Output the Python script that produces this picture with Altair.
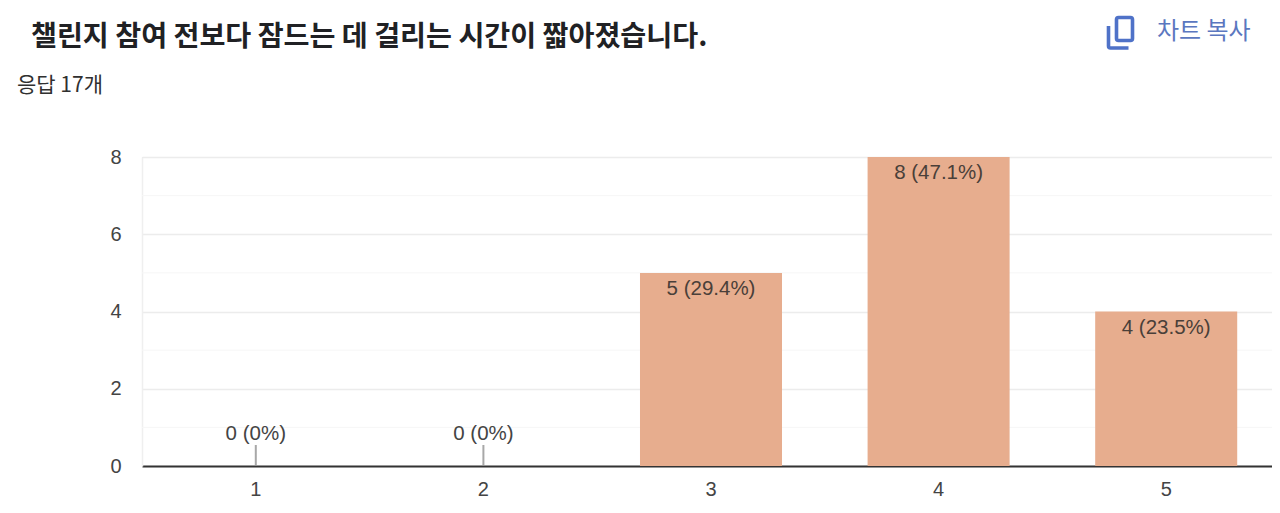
import altair as alt
import pandas as pd

categories = ["1", "2", "3", "4", "5"]
counts = [0, 0, 5, 8, 4]
labels = ["0 (0%)", "0 (0%)", "5 (29.4%)", "8 (47.1%)", "4 (23.5%)"]
major_ticks = [0, 2, 4, 6, 8]
minor_ticks = [1, 3, 5, 7]
title_text = "챌린지 참여 전보다 잠드는 데 걸리는 시간이 짧아졌습니다."
subtitle_text = "응답 17개"
copy_text = "차트 복사"

LATIN = "Liberation Sans"
CJK = "Noto Sans CJK KR"

df = pd.DataFrame({"cat": categories, "n": counts, "label": labels})
nonzero = df[df.n > 0]
zero = df[df.n == 0]

x = alt.X(
    "cat:N",
    sort=categories,
    scale=alt.Scale(range=[0, 1138], paddingInner=0.376, paddingOuter=0.188),
    axis=alt.Axis(
        title=None, labelAngle=0, ticks=False, grid=False, labelFont=LATIN,
        labelFontSize=20, labelColor="#444444", labelPadding=13,
        domainColor="#333333", domainWidth=2,
    ),
)
y_scale = alt.Scale(domain=[0, 8], nice=False)
y_axis = alt.Axis(
    title=None, values=major_ticks, ticks=False, labelFont=LATIN,
    labelFontSize=20, labelColor="#444444", labelPadding=21,
    gridColor="#ececec", gridWidth=1.5, domainColor="#efefef", domainWidth=1.5,
)
y = alt.Y("n:Q", scale=y_scale, axis=y_axis)

minor = (
    alt.Chart(pd.DataFrame({"v": minor_ticks}))
    .mark_rule(color="#f6f6f6", strokeWidth=1)
    .encode(y=alt.Y("v:Q", scale=y_scale, axis=y_axis))
)
bars = alt.Chart(nonzero).mark_bar(color="#e7ad8e").encode(x=x, y=y)
bar_labels = (
    alt.Chart(nonzero)
    .mark_text(font=LATIN, fontSize=20.5, color="#4a3f39", baseline="middle", dy=16)
    .encode(x=x, y=y, text="label:N")
)
stubs = (
    alt.Chart(zero)
    .mark_rule(color="#a8a8a8", strokeWidth=2)
    .encode(x=x, y=alt.value(288), y2=alt.value(308))
)
zero_labels = (
    alt.Chart(zero)
    .mark_text(font=LATIN, fontSize=20.5, color="#444444", baseline="middle", dy=-32)
    .encode(x=x, y=y, text="label:N")
)


def header(text, px, py, size, color, weight="normal"):
    return (
        alt.Chart(pd.DataFrame({"t": [text]}))
        .mark_text(font=CJK, fontSize=size, color=color, fontWeight=weight,
                   align="left", baseline="middle")
        .encode(x=alt.value(px), y=alt.value(py), text="t:N")
    )


title = header(title_text, -111, -119, 28.2, "#202124", "bold")
subtitle = header(subtitle_text, -125, -71, 21, "#303030")
copy_label = header(copy_text, 1015, -125, 24, "#5b77bf")

icon_front = (
    alt.Chart(pd.DataFrame({"k": ["front"]}))
    .mark_point(
        shape="M0 2 Q0 0 2 0 L14 0 Q16 0 16 2 L16 21 Q16 23 14 23 L2 23 Q0 23 0 21 Z",
        size=4, filled=False, stroke="#4f72c8", strokeWidth=3.6, opacity=1,
    )
    .encode(x=alt.value(974.5), y=alt.value(-139.5))
)
icon_back = (
    alt.Chart(pd.DataFrame({"k": ["back"]}))
    .mark_point(
        shape="M0 0 L0 20 Q0 22 2 22 L20 22",
        size=4, filled=False, stroke="#4f72c8", strokeWidth=3.6, opacity=1,
    )
    .encode(x=alt.value(966.5), y=alt.value(-131))
)

chart = (
    alt.layer(minor, bars, bar_labels, stubs, zero_labels, title, subtitle, copy_label,
              icon_front, icon_back)
    .properties(
        width=1130, height=309, autosize="none",
        padding={"left": 134, "top": 149, "right": 0, "bottom": 39},
    )
    .configure_view(stroke=None)
    .configure(background="white")
)
chart.save("out.html", embed_options={"renderer": "svg", "actions": False})
